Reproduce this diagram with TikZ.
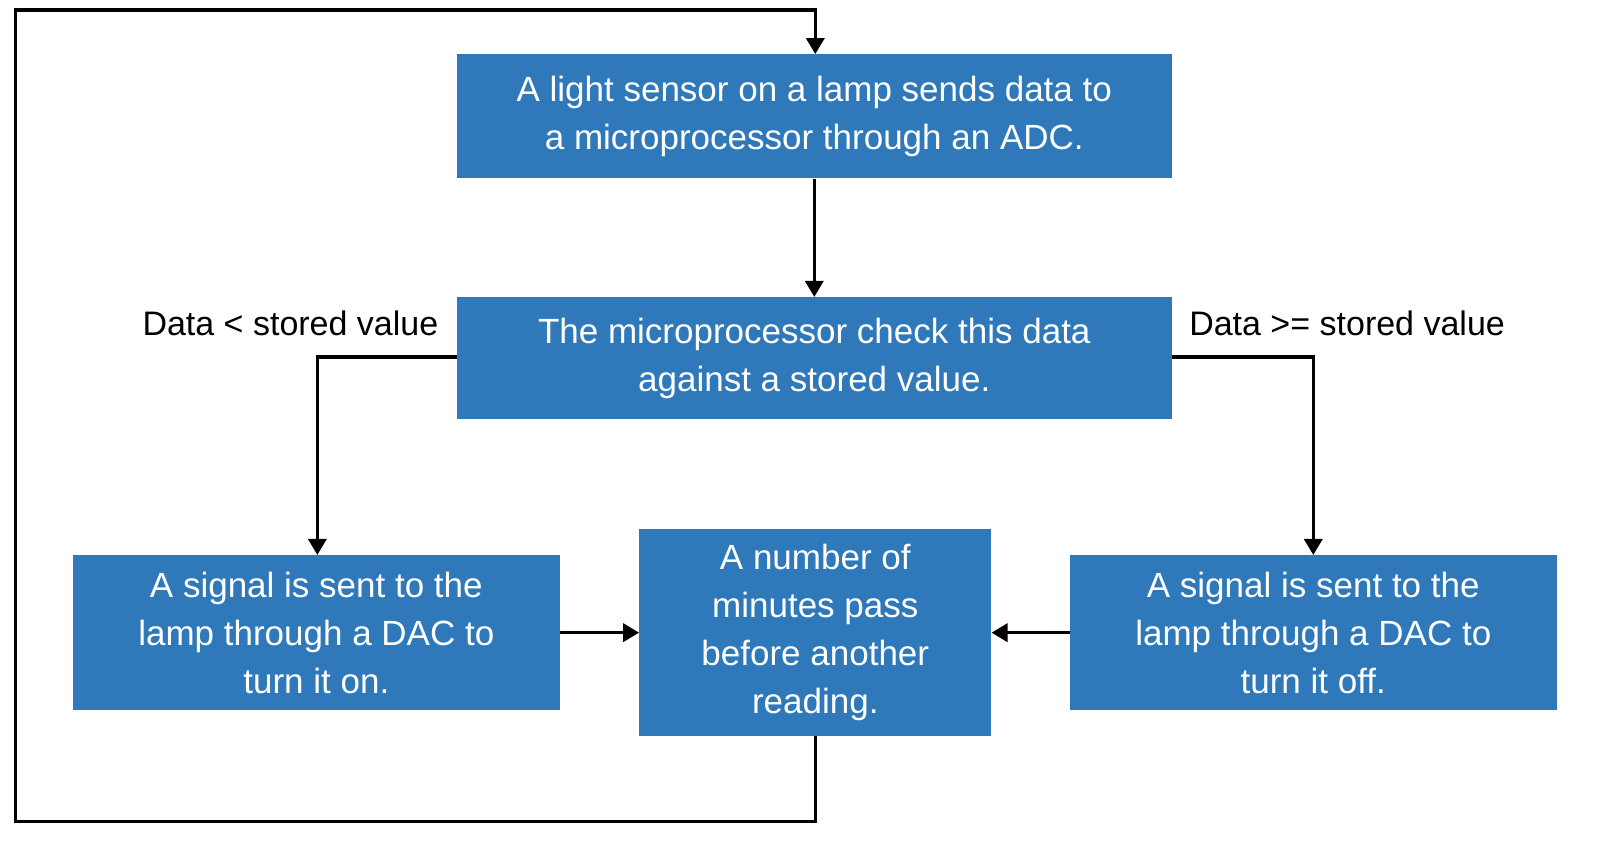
\documentclass[tikz,border=0pt]{standalone}
\usepackage{fontspec}
\setmainfont{Liberation Sans}
\usetikzlibrary{arrows.meta}
\definecolor{boxblue}{RGB}{47,120,185}
\begin{document}
\begin{tikzpicture}[x=1.0204pt,y=-1.0204pt,
  box/.style={fill=boxblue,text=white,align=center,inner sep=0pt,font=\fontsize{35}{48}\selectfont},
  arr/.style={line width=3.5pt,-{Triangle[length=16pt,width=18pt]}},
  ln/.style={line width=3.5pt},
  lab/.style={font=\fontsize{34}{40}\selectfont,text=black}]
\useasboundingbox (0,0) rectangle (1568,824);
\fill[white] (0,0) rectangle (1568,824);
\node[box,minimum width=715pt,minimum height=124pt] (b1) at (798,114) {A light sensor on a lamp sends data to\\a microprocessor through an ADC.};
\node[box,minimum width=715pt,minimum height=122pt] (b2) at (798,351) {The microprocessor check this data\\against a stored value.};
\node[box,minimum width=487pt,minimum height=155pt] (b3) at (310,620) {A signal is sent to the\\lamp through a DAC to\\turn it on.};
\node[box,minimum width=352pt,minimum height=207pt] (b4) at (799,620) {A number of\\minutes pass\\before another\\reading.};
\node[box,minimum width=487pt,minimum height=155pt] (b5) at (1287,620) {A signal is sent to the\\lamp through a DAC to\\turn it off.};
\coordinate (c1) at (799,805);
\coordinate (c2) at (15,805);
\coordinate (c3) at (15,10);
\coordinate (c4) at (799,10);
\coordinate (l1) at (311,350);
\coordinate (r1) at (1287,350);
\draw[arr] (b1) -- (b2);
\draw[arr] (b2.west |- l1) -- (l1) -- (b3.north -| l1);
\draw[arr] (b2.east |- r1) -- (r1) -- (b5.north -| r1);
\draw[arr] (b3) -- (b4);
\draw[arr] (b5) -- (b4);
\draw[arr] (b4.south) -- (c1) -- (c2) -- (c3) -- (c4) -- (b1.north -| c4);
\node[lab,anchor=east] (t1) at (433,317) {Data < stored value};
\node[lab,anchor=west] (t2) at (1162,317) {Data >= stored value};
\end{tikzpicture}
\end{document}
